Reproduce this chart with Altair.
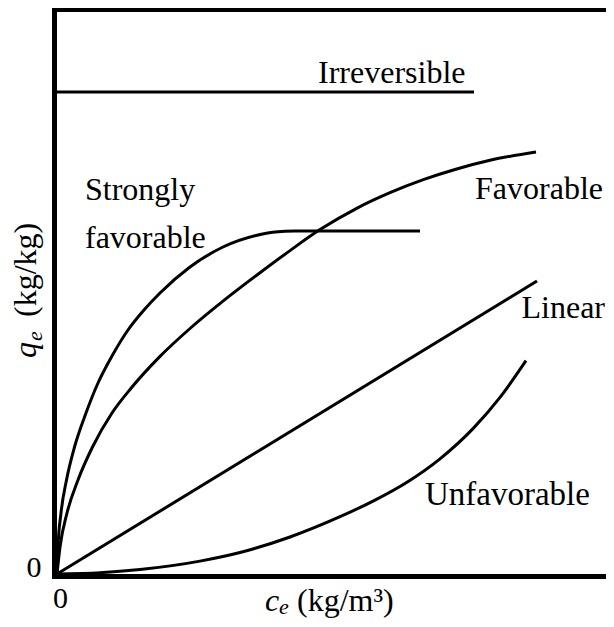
import altair as alt
import pandas as pd

# ---- curve data (c_e, q_e) in arbitrary units ----
sf_x = [0, 1, 4, 9.5, 17.5, 29, 41, 55, 71, 87, 103, 133, 166, 199, 218, 238, 363]
sf_y = [0, 27, 61, 94, 127, 161, 191, 218, 244, 264, 281, 307, 327, 338.5, 342, 343, 343]

fav_x = [0, 3, 10, 21, 35.5, 55, 74, 103, 133, 166.3, 199.7, 233, 263, 299.7, 333, 366.3, 399.7, 433, 479]
fav_y = [0, 27, 61, 94, 127, 161, 185.7, 217.6, 245.5, 273.1, 298.8, 323.4, 344.4, 365.7, 381.3, 394.3, 405, 413.7, 422]

lin_x = [0, 480]
lin_y = [0, 293]

unf_x = [0, 43, 83, 143, 183, 233, 283, 318, 350, 383, 416, 443, 469]
unf_y = [0, 1.3, 4.5, 12.9, 21.5, 37, 57.3, 73.9, 91.8, 115.2, 145.4, 176.6, 213.4]

irr_x = [0, 417]
irr_y = [482, 482]

# ---- text ----
curve_labels = ["Irreversible", "Strongly", "favorable", "Unfavorable", "Favorable", "Linear"]
x_tick_values = [0]
y_tick_values = [0]

XMIN, XMAX = -3, 549
YMIN, YMAX = -2, 566
FONT = "Liberation Serif"

rows = []
for name, xs_, ys_ in [("sf", sf_x, sf_y), ("fav", fav_x, fav_y), ("lin", lin_x, lin_y),
                       ("unf", unf_x, unf_y), ("irr", irr_x, irr_y)]:
    for i, (a, b) in enumerate(zip(xs_, ys_)):
        rows.append({"series": name, "ce": a, "qe": b, "i": i})
curves = pd.DataFrame(rows)

xs = alt.Scale(domain=[XMIN, XMAX], nice=False, zero=False)
ys = alt.Scale(domain=[YMIN, YMAX], nice=False, zero=False)

base_x = alt.X("ce:Q", scale=xs,
               axis=alt.Axis(values=x_tick_values, title=None, grid=False, ticks=False, tickSize=0,
                             domainWidth=5, domainColor="black", domainCap="square",
                             labelFont=FONT, labelFontSize=30, labelColor="black",
                             labelBaseline="alphabetic", labelPadding=31, labelOffset=3))
base_y = alt.Y("qe:Q", scale=ys,
               axis=alt.Axis(values=y_tick_values, title=None, grid=False, ticks=False, tickSize=0,
                             domainWidth=5, domainColor="black", domainCap="square",
                             labelFont=FONT, labelFontSize=30, labelColor="black",
                             labelBaseline="alphabetic", labelPadding=13, labelOffset=2))

lines = alt.Chart(curves).mark_line(color="black", strokeWidth=3, interpolate="monotone").encode(
    x=base_x, y=base_y, detail="series:N", order="i:Q")

top_rule = alt.Chart(pd.DataFrame({"a": [0]})).mark_rule(color="black", strokeWidth=4).encode(
    x=alt.value(0), x2=alt.value(XMAX - XMIN), y=alt.value(2))

# annotation positions (data units)
ann = pd.DataFrame({
    "text": curve_labels,
    "ce": [261, 28, 28, 368, 546, 548],
    "qe": [491, 374, 326, 69, 375, 256],
    "side": ["left", "left", "left", "left", "right", "right"],
    "size": [32, 32, 32, 33, 32, 32],
})

def ann_layer(df, align):
    return alt.Chart(df).mark_text(
        font=FONT, align=align, baseline="alphabetic", color="black").encode(
        x=alt.X("ce:Q", scale=xs), y=alt.Y("qe:Q", scale=ys), text="text:N",
        size=alt.Size("size:Q", scale=None, legend=None))

ann_left = ann_layer(ann[ann["side"] == "left"], "left")
ann_right = ann_layer(ann[ann["side"] == "right"], "right")

# axis titles built from pieces (italic symbol + subscript + units)
xt = pd.DataFrame({"text": ["c", "e", "(kg/m³)"], "ce": [208, 222, 240], "qe": [-37, -40, -37],
                   "size": [32, 22, 32], "style": ["italic", "italic", "normal"]})
yt = pd.DataFrame({"text": ["q", "e", "(kg/kg)"], "ce": [-21, -15, -21], "qe": [216, 233, 257],
                   "size": [32, 22, 32], "style": ["italic", "italic", "normal"]})

def title_layer(df, angle):
    layers = []
    for _, r in df.iterrows():
        layers.append(alt.Chart(pd.DataFrame([r])).mark_text(
            font=FONT, fontSize=int(r["size"]), fontStyle=r["style"], align="left",
            baseline="alphabetic", angle=angle, color="black").encode(
            x=alt.X("ce:Q", scale=xs), y=alt.Y("qe:Q", scale=ys), text="text:N"))
    return layers

chart = alt.layer(lines, top_rule, ann_left, ann_right,
                  *title_layer(xt, 0), *title_layer(yt, 270)).properties(
    width=XMAX - XMIN, height=YMAX - YMIN,
    autosize=alt.AutoSizeParams(type="none"),
    padding={"left": 46, "top": 0, "right": 0, "bottom": 43},
).configure_view(stroke=None).configure(background="white")

chart.save("out.html", embed_options={"renderer": "svg", "actions": False})
